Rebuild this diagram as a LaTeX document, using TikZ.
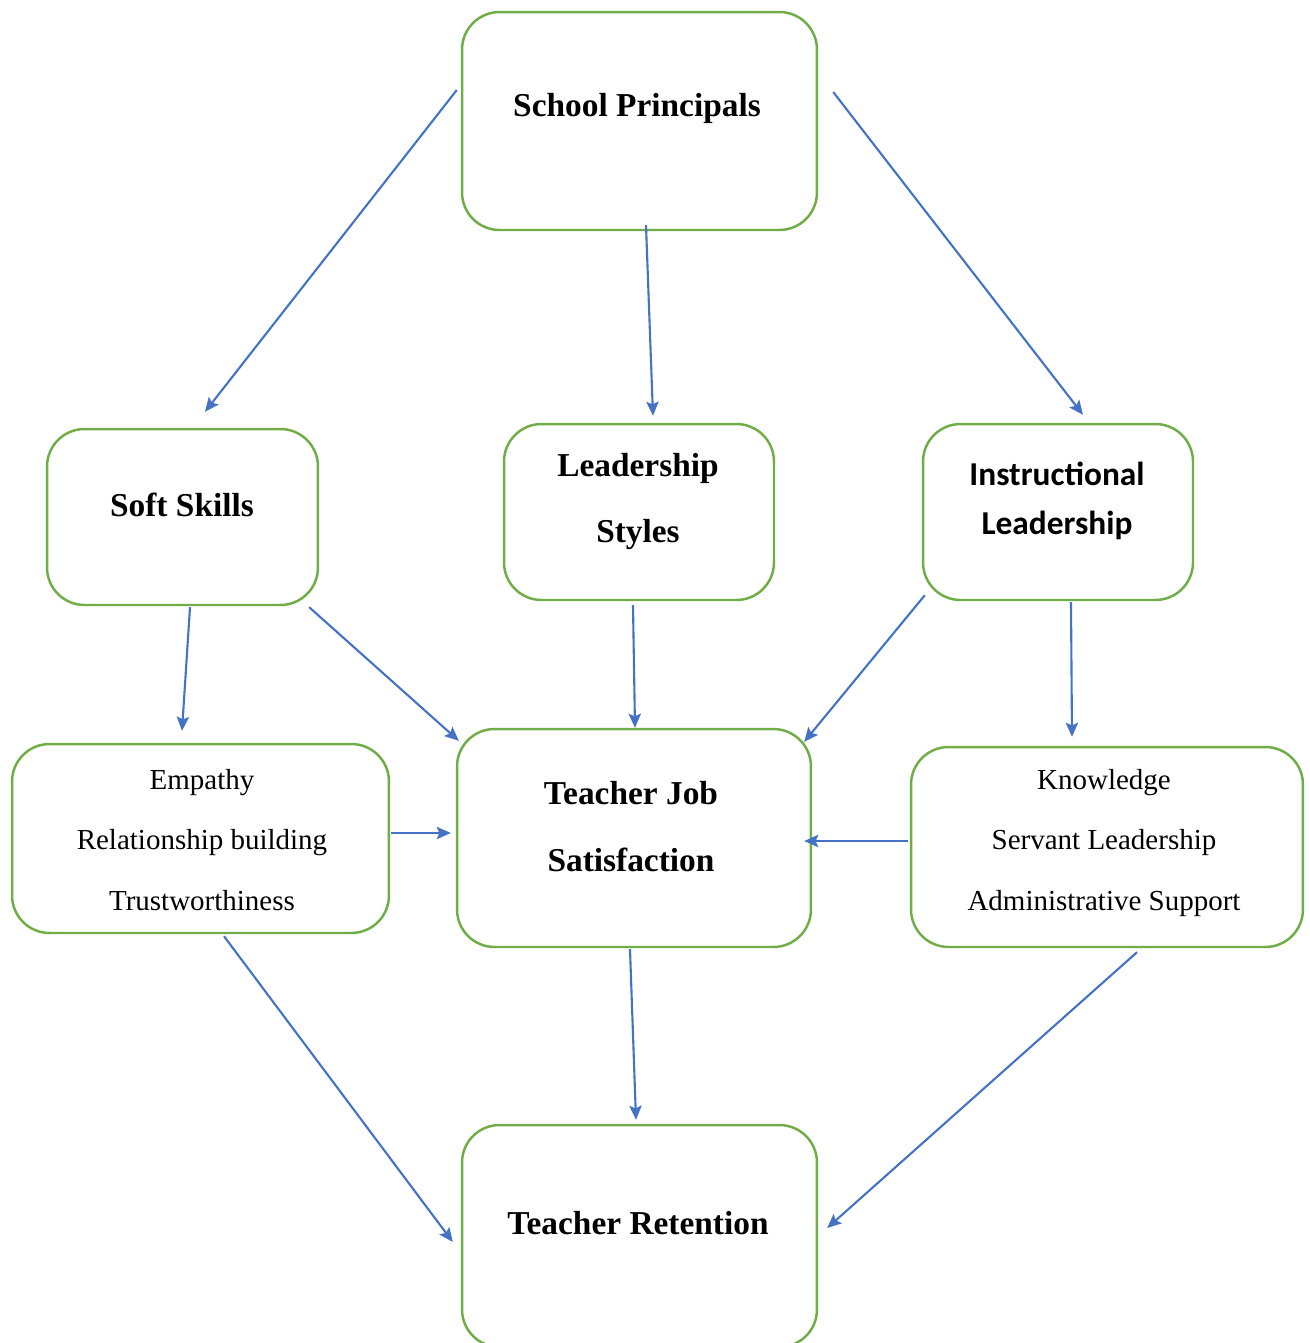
\documentclass[tikz,border=0pt]{standalone}
\usepackage{fontspec}
\setmainfont{Liberation Serif}
\newfontfamily\calibrifont{Carlito}
\usetikzlibrary{arrows.meta,calc}

\definecolor{boxgreen}{RGB}{112,173,71}
\definecolor{arrblue}{RGB}{68,114,196}

\tikzset{
	box/.style={draw=boxgreen, line width=1.4pt, rounded corners=0.75cm, rectangle},
	head/.style={font=\fontsize{19}{38}\selectfont\bfseries, align=center},
	items/.style={font=\fontsize{16.5}{34.5}\selectfont, align=center},
	arr/.style={arrblue, line width=1.2pt, -{Stealth[length=8pt,width=7pt,inset=1.5pt]}}
}

\begin{document}
\begin{tikzpicture}[x=0.02cm, y=-0.02cm]
	\clip (0,0) rectangle (1310,1343);

	\draw ( 639.5, 121) node[box, minimum width=7.1cm,  minimum height=4.36cm] (sp)  {};
	\draw ( 182.5, 517) node[box, minimum width=5.42cm, minimum height=3.52cm] (ss)  {};
	\draw ( 639,   512) node[box, minimum width=5.4cm,  minimum height=3.52cm] (ls)  {};
	\draw (1058,   512) node[box, minimum width=5.4cm,  minimum height=3.52cm] (il)  {};
	\draw ( 200.5, 838.5) node[box, minimum width=7.54cm, minimum height=3.78cm] (emp) {};
	\draw ( 634,   838) node[box, minimum width=7.08cm, minimum height=4.36cm] (tjs) {};
	\draw (1107,   847) node[box, minimum width=7.84cm, minimum height=4.0cm]  (kn)  {};
	\draw ( 639.5,1236) node[box, minimum width=7.1cm,  minimum height=4.44cm] (tr)  {};

	\draw ( 637,  108) node[head] (sp-t)  {School Principals};
	\draw ( 182,  505) node[head] (ss-t)  {Soft Skills};
	\draw ( 638,  501.5) node[head] (ls-t) {Leadership\\Styles};
	\draw (1057,  500.5) node[head, font=\fontsize{19}{28}\selectfont\calibrifont\bfseries] (il-t) {Instructional\\Leadership};
	\draw ( 202,  840) node[items] (emp-t) {Empathy\\Relationship building\\Trustworthiness};
	\draw ( 631,  826.5) node[head] (tjs-t) {Teacher Job\\Satisfaction};
	\draw (1104,  843) node[items] (kn-t)  {Knowledge\\Servant Leadership\\Administrative Support};
	\draw ( 638, 1223) node[head] (tr-t)  {Teacher Retention};

	\draw[arr] ($(sp.west)+(-4,-31)$)        -- ($(ss.north)+(22.5,-16)$);
	\draw[arr] ($(sp.south)+(6.5,-6)$)       -- ($(ls.north)+(14,-7)$);
	\draw[arr] ($(sp.east)+(15,-29)$)        -- ($(il.north)+(25,-8)$);

	\draw[arr] ($(ss.south)+(7.5,1)$)        -- ($(emp.north)+(-18.5,-12)$);
	\draw[arr] ($(ss.south east)+(-10,1)$)   -- ($(tjs.north west)+(3,13)$);
	\draw[arr] ($(ls.south)+(-6,4)$)         -- ($(tjs.north)+(1,0)$);
	\draw[arr] ($(il.south west)+(3,-6)$)    -- ($(tjs.north east)+(-8,14)$);
	\draw[arr] ($(il.south)+(13,1)$)         -- ($(kn.north)+(-35,-9)$);

	\draw[arr] ($(emp.east)+(1,-5.5)$)       -- ($(tjs.west)+(-5,-5)$);
	\draw[arr] ($(kn.west)+(-2,-6)$)         -- ($(tjs.east)+(-8,3)$);

	\draw[arr] ($(tjs.south)+(-4,1)$)        -- ($(tr.north)+(-3.5,-4)$);
	\draw[arr] ($(emp.south)+(23.5,2)$)      -- ($(tr.west)+(-8,6)$);
	\draw[arr] ($(kn.south)+(30,4)$)         -- ($(tr.east)+(9,-8)$);
\end{tikzpicture}
\end{document}
